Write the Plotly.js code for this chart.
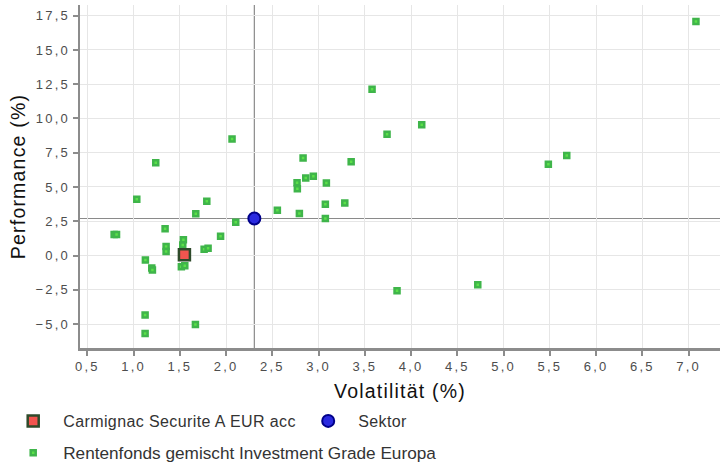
<!DOCTYPE html>
<html>
<head>
<meta charset="utf-8">
<script src="https://cdn.plot.ly/plotly-3.0.1.min.js"></script>
<style>
html,body{margin:0;padding:0;background:#fff;}
#chart{width:720px;height:463px;}
.xtick text, .ytick text { letter-spacing: 2.2px; }
.g-xtitle text, .g-ytitle text { letter-spacing: 1.2px; }
.legendtext { letter-spacing: 0.4px; }
</style>
</head>
<body>
<div id="chart"></div>
<script>
// Peer group: Rentenfonds gemischt Investment Grade Europa
const peerVol = [1.239, 2.064, 2.832, 2.943, 2.861, 2.767, 2.770, 1.034, 1.791, 1.672, 2.554, 2.792, 2.104, 1.340, 0.789, 0.815, 1.940, 1.538, 1.531, 1.351, 1.351, 1.762, 1.805, 1.127, 1.196, 1.203, 1.516, 1.553, 1.124, 1.668, 1.124, 3.578, 4.115, 3.740, 3.352, 3.084, 3.073, 3.283, 3.073, 3.848, 4.721, 7.080, 5.484, 5.683];
const peerPerf = [6.77, 8.50, 7.12, 5.78, 5.65, 5.30, 4.87, 4.10, 3.95, 3.05, 3.30, 3.06, 2.42, 1.96, 1.53, 1.53, 1.41, 1.15, 0.77, 0.66, 0.30, 0.46, 0.53, -0.32, -0.92, -1.06, -0.83, -0.75, -4.34, -5.04, -5.70, 12.13, 9.55, 8.84, 6.84, 5.29, 3.74, 3.84, 2.70, -2.58, -2.14, 17.08, 6.65, 7.29];
// Fund
const fundName = ["Carmignac Securite A EUR acc"];
const fundVol = [1.549];
const fundPerf = [0.05];
// Sector average
const sectorVol = [2.305];
const sectorPerf = [2.70];

const xTitle = "Volatilität (%)";
const yTitle = "Performance (%)";

const traces = [
  {
    type: 'scatter', mode: 'markers', name: 'Rentenfonds gemischt Investment Grade Europa',
    x: peerVol, y: peerPerf, legend: 'legend2',
    marker: {symbol: 'square', size: 5, color: '#5be048', line: {color: '#3fb54a', width: 2.5}}
  },
  {
    type: 'scatter', mode: 'markers', name: fundName[0],
    x: fundVol, y: fundPerf, legend: 'legend',
    marker: {symbol: 'square', size: 11, color: '#f2554f', line: {color: '#2e4a2a', width: 2.5}}
  },
  {
    type: 'scatter', mode: 'markers', name: 'Sektor',
    x: sectorVol, y: sectorPerf, legend: 'legend',
    marker: {symbol: 'circle', size: 12, color: '#2a2ae0', line: {color: '#00008a', width: 2}}
  }
];

const legendBase = {
  orientation: 'h', x: -0.12, xanchor: 'left', yanchor: 'middle', itemwidth: 50,
  font: {size: 16, color: '#333333'}, traceorder: 'normal', bgcolor: 'rgba(0,0,0,0)'
};

const layout = {
  width: 720, height: 463,
  margin: {l: 80, r: 0, t: 5, b: 115, autoexpand: false},
  paper_bgcolor: '#ffffff', plot_bgcolor: '#ffffff',
  separators: ', ',
  font: {family: 'Liberation Sans, Arial, sans-serif', color: '#4d4d4d', size: 13},
  showlegend: true,
  legend: Object.assign({}, legendBase, {y: -0.2128, entrywidth: 230, entrywidthmode: 'pixels'}),
  legend2: Object.assign({}, legendBase, {y: -0.306, font: {size: 17.2, color: '#333333'}}),
  xaxis: {
    range: [0.42, 7.34], dtick: 0.5, tick0: 0.5, tickformat: '.1f',
    showgrid: true, gridcolor: '#e6e6e6', gridwidth: 1,
    zeroline: false, showline: true, linecolor: '#8c8c8c', linewidth: 2.5,
    ticks: 'outside', ticklen: 5, tickwidth: 2, tickcolor: '#8c8c8c',
    tickfont: {size: 13, color: '#4d4d4d'},
    title: {text: xTitle, font: {size: 19.5, color: '#111111'}, standoff: 12}
  },
  yaxis: {
    range: [-6.75, 18.28], dtick: 2.5, tick0: 0, tickformat: '.1f',
    showgrid: true, gridcolor: '#e6e6e6', gridwidth: 1,
    zeroline: false, showline: true, linecolor: '#8c8c8c', linewidth: 2.5,
    ticks: 'outside', ticklen: 5, tickwidth: 2, tickcolor: '#8c8c8c',
    tickfont: {size: 13, color: '#4d4d4d'},
    title: {text: yTitle, font: {size: 19.5, color: '#111111'}, standoff: 5}
  },
  shapes: [
    {type: 'line', xref: 'x', yref: 'paper', x0: sectorVol[0], x1: sectorVol[0], y0: 0, y1: 1, line: {color: '#8a8a8a', width: 1.2}, layer: 'below'},
    {type: 'line', xref: 'paper', yref: 'y', x0: 0, x1: 1, y0: sectorPerf[0], y1: sectorPerf[0], line: {color: '#8a8a8a', width: 1.2}, layer: 'below'}
  ]
};

Plotly.newPlot('chart', traces, layout, {displayModeBar: false, staticPlot: true});
</script>
</body>
</html>
